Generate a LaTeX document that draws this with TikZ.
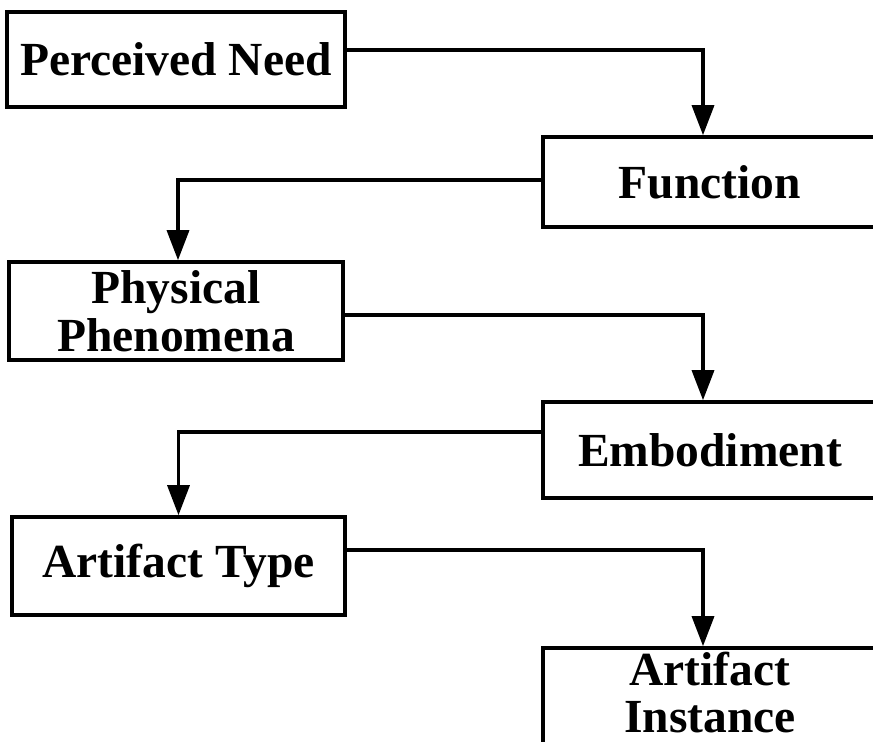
\documentclass[tikz,border=0pt]{standalone}
\usepackage{fontspec}
\setmainfont{Liberation Serif}
\usetikzlibrary{arrows.meta}
\begin{document}
\begin{tikzpicture}[x=1bp,y=-1bp,
  stage/.style={draw, line width=3.6bp, rectangle, inner sep=0pt, align=center,
    font=\fontsize{47.5bp}{48bp}\selectfont\bfseries},
  caption/.style={inner sep=0pt, align=center,
    font=\fontsize{47.5bp}{47bp}\selectfont\bfseries},
  flow/.style={line width=3.4bp, -{Triangle[length=30bp,width=22bp]}}]
  \useasboundingbox (0,0) rectangle (873,742);
  \clip (0,0) rectangle (873,742);
  % design stages
  \node[stage, minimum width=338bp, minimum height=95bp] (pn) at (176,59.5) {Perceived Need};
  \node[stage, minimum width=334bp, minimum height=90bp] (fn) at (710,182) {Function};
  \node[stage, minimum width=334bp, minimum height=98bp] (pp) at (176,311) {Physical\\Phenomena};
  \node[stage, minimum width=334bp, minimum height=96bp] (em) at (710,450) {Embodiment};
  \node[stage, minimum width=333bp, minimum height=98bp] (at) at (178.5,566) {Artifact Type};
  % last stage runs past the lower edge; its caption sits near the top
  \node[stage, minimum width=334bp, minimum height=104bp] (ai) at (710,700) {};
  \node[caption] (ait) at (710,693) {Artifact\\Instance};
  % zig-zag flow between stages
  \draw[flow] ([yshift=9.5bp]pn.east) -| ([xshift=-7bp]fn.north);
  \draw[flow] ([yshift=2bp]fn.west) -| ([xshift=2bp]pp.north);
  \draw[flow] ([yshift=-4bp]pp.east) -| ([xshift=-7bp]em.north);
  \draw[flow] ([yshift=18bp]em.west) -| (at.north);
  \draw[flow] ([yshift=16bp]at.east) -| ([xshift=-7bp]ai.north);
\end{tikzpicture}
\end{document}
